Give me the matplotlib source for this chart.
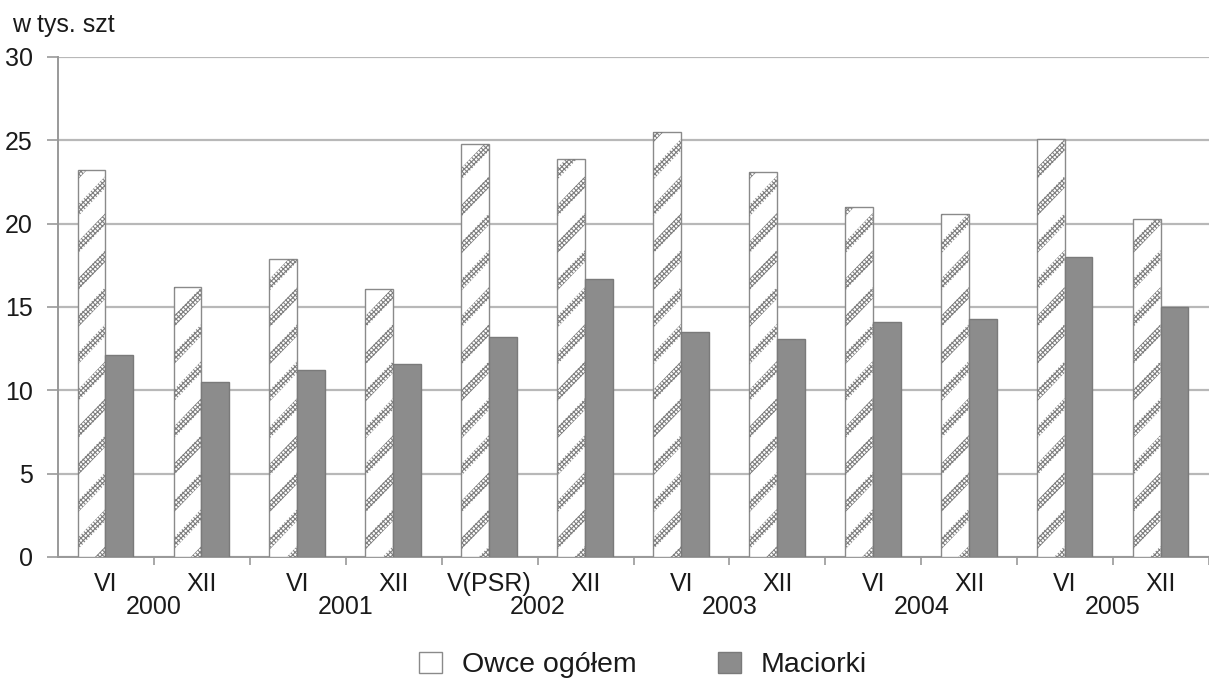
import numpy as np
import matplotlib
matplotlib.use("Agg")
import matplotlib.pyplot as plt
from matplotlib.patches import Patch, Polygon
from matplotlib import transforms

months = ['VI', 'XII', 'VI', 'XII', 'V(PSR)', 'XII', 'VI', 'XII', 'VI', 'XII', 'VI', 'XII']
years = ['2000', '2001', '2002', '2003', '2004', '2005']
owce = [23.2, 16.2, 17.9, 16.1, 24.8, 23.9, 25.5, 23.1, 21.0, 20.6, 25.1, 20.3]
maciorki = [12.1, 10.5, 11.2, 11.6, 13.2, 16.7, 13.5, 13.1, 14.1, 14.3, 18.0, 15.0]
y_ticks = [0, 5, 10, 15, 20, 25, 30]
unit_label = 'w tys. szt'
legend_labels = ['Owce ogółem', 'Maciorki']

plt.rcParams['font.family'] = ['Liberation Sans', 'DejaVu Sans']
plt.rcParams['font.size'] = 18
plt.rcParams['hatch.linewidth'] = 0.8

grid_color = '#b8b8b8'
axis_color = '#999999'
mac_color = '#8c8c8c'
txt_color = '#1a1a1a'
stripe_color = '#7f7f7f'

fig = plt.figure(figsize=(12.09, 6.84), dpi=100)
ax = fig.add_axes([58 / 1209, 1 - 557 / 684, (1209 - 58) / 1209, 500 / 684])

x = np.arange(len(months))
w = 0.29
bars_owce = ax.bar(x - w / 2 - 0.005, owce, width=w, color='white',
                   edgecolor='#8a8a8a', linewidth=1.0, zorder=3)
ax.bar(x + w / 2 - 0.005, maciorki, width=w, color=mac_color,
       edgecolor='#7a7a7a', linewidth=1.0, zorder=3)

# diagonal dotted stripes inside the white bars (fill texture)
slope = 6.0
spacing = 2.22
band = 0.7
for bar in bars_owce:
    x0 = bar.get_x()
    x1 = x0 + bar.get_width()
    for c in np.arange(-4, 32, spacing):
        y0 = c
        y1 = c + slope * (x1 - x0)
        poly = Polygon([[x0, y0], [x1, y1], [x1, y1 + band], [x0, y0 + band]],
                       closed=True, facecolor='none', edgecolor=stripe_color,
                       linewidth=0, hatch='xxxxxxx', zorder=3.5)
        ax.add_patch(poly)
        poly.set_clip_path(bar)

ax.set_ylim(0, 30)
ax.set_xlim(-0.5, -0.5 + (1209 - 58) / 97.0)
ax.set_yticks(y_ticks)
ax.yaxis.grid(True, color=grid_color, linewidth=1.6, zorder=0)
ax.set_axisbelow(True)

ax.set_xticks(x)
ax.set_xticklabels(months)
ax.set_xticks(np.arange(len(months)) + 0.5, minor=True)
ax.tick_params(axis='x', which='major', length=0, pad=11, labelcolor=txt_color)
ax.tick_params(axis='x', which='minor', length=6, width=1.2, color=axis_color, direction='out')
ax.tick_params(axis='y', length=8, width=1.2, color=axis_color, pad=10, labelcolor=txt_color)

for s in ['top', 'right']:
    ax.spines[s].set_visible(False)
for s in ['left', 'bottom']:
    ax.spines[s].set_color(axis_color)
    ax.spines[s].set_linewidth(1.4)

trans = transforms.blended_transform_factory(ax.transData, ax.transAxes)
for j, yr in enumerate(years):
    ax.text(2 * j + 0.5, -0.1, yr, transform=trans, ha='center', va='center',
            color=txt_color)

fig.text(12 / 1209, 1 - 32 / 684, unit_label, ha='left', va='baseline', color=txt_color)

handles = [Patch(facecolor='white', edgecolor='#8a8a8a', linewidth=1.0),
           Patch(facecolor=mac_color, edgecolor='#7a7a7a', linewidth=1.0)]
fig.legend(handles, legend_labels, loc='center', bbox_to_anchor=(0.532, 1 - 665 / 684),
           ncol=2, frameon=False, fontsize=20.5, columnspacing=2.84, handlelength=0.81,
           handleheight=0.75, handletextpad=0.7, labelcolor=txt_color)

fig.savefig('out.png', dpi=100)
